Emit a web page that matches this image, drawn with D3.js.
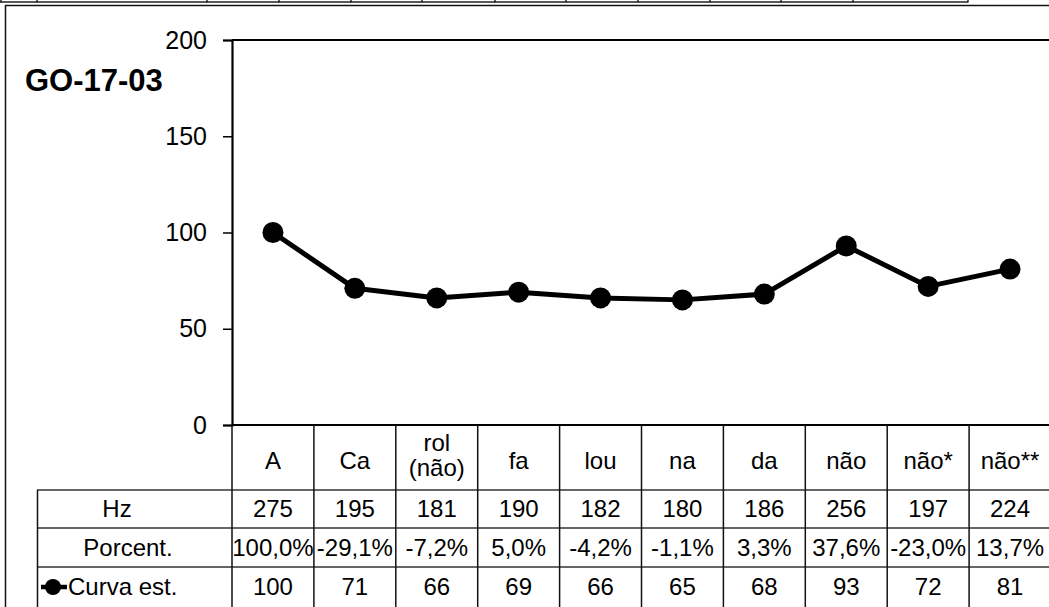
<!DOCTYPE html>
<html>
<head>
<meta charset="utf-8">
<script src="https://cdn.jsdelivr.net/npm/d3@7"></script>
<style>
html,body{margin:0;padding:0;background:#fff;overflow:hidden;}
svg{display:block;font-family:"Liberation Sans",Arial,sans-serif;}
</style>
</head>
<body>
<svg id="c" width="1049" height="607"></svg>
<script>
// ---- data ----
const title = "GO-17-03";
const categories = ["A", "Ca", "rol\n(não)", "fa", "lou", "na", "da", "não", "não*", "não**"];
const hz = [275, 195, 181, 190, 182, 180, 186, 256, 197, 224];
const porcent = ["100,0%", "-29,1%", "-7,2%", "5,0%", "-4,2%", "-1,1%", "3,3%", "37,6%", "-23,0%", "13,7%"];
const curva = [100, 71, 66, 69, 66, 65, 68, 93, 72, 81];
const yTicks = [0, 50, 100, 150, 200];
const rowLabels = ["Hz", "Porcent.", "Curva est."];
// fragment of the page table above the chart (column boundaries)
const pageTableCols = [1, 37, 207, 279, 351, 422, 495, 566, 638, 710, 781, 853, 968];

// ---- layout ----
const svg = d3.select("#c");
const plot = {left: 232, right: 1051, top: 40, bottom: 425};
const x = d3.scaleBand().domain(categories.map((c, i) => i)).range([plot.left, plot.right]);
const y = d3.scaleLinear().domain([0, 200]).range([plot.bottom, plot.top]);
const rows = [{top: 425, bottom: 490}, {top: 490, bottom: 528}, {top: 528, bottom: 567}, {top: 567, bottom: 607}];
const labelLeft = 37;

// page table fragment
svg.append("line").attr("x1", 0).attr("x2", 968).attr("y1", 2).attr("y2", 2)
  .attr("stroke", "#222").attr("stroke-width", 1.5);
svg.selectAll("line.ptc").data(pageTableCols).join("line").attr("class", "ptc")
  .attr("x1", d => d).attr("x2", d => d).attr("y1", 0).attr("y2", 2.5)
  .attr("stroke", "#222").attr("stroke-width", 1.5);

// chart outer border
svg.append("rect").attr("x", 5.5).attr("y", 5.5).attr("width", 1100).attr("height", 700)
  .attr("fill", "none").attr("stroke", "#111").attr("stroke-width", 1.5);

// title
svg.append("text").attr("x", 25).attr("y", 91).attr("font-size", 31).attr("font-weight", "bold")
  .attr("fill", "#000").text(title);

// plot area top border
svg.append("line").attr("x1", plot.left).attr("x2", plot.right).attr("y1", plot.top).attr("y2", plot.top)
  .attr("stroke", "#000").attr("stroke-width", 2.2);

// y axis
const yAxis = d3.axisLeft(y).tickValues(yTicks).tickSize(9).tickPadding(16).tickFormat(d3.format("d"));
const gy = svg.append("g").attr("transform", `translate(${plot.left},0)`).call(yAxis);
gy.select(".domain").attr("stroke", "#000").attr("stroke-width", 2.2);
gy.selectAll(".tick line").attr("stroke", "#000").attr("stroke-width", 1.5);
gy.selectAll(".tick text").attr("font-size", 25).attr("font-family", "Liberation Sans, Arial, sans-serif")
  .attr("fill", "#000");

// x axis baseline
svg.append("line").attr("x1", plot.left).attr("x2", plot.right).attr("y1", plot.bottom).attr("y2", plot.bottom)
  .attr("stroke", "#000").attr("stroke-width", 2.2);

// table grid: horizontal lines
svg.selectAll("line.hrow").data(rows.slice(1)).join("line").attr("class", "hrow")
  .attr("x1", labelLeft).attr("x2", plot.right).attr("y1", d => d.top).attr("y2", d => d.top)
  .attr("stroke", "#333").attr("stroke-width", 1.5);
// vertical lines at band boundaries
const bounds = categories.map((c, i) => x(i)).concat([plot.right]);
svg.selectAll("line.vcol").data(bounds).join("line").attr("class", "vcol")
  .attr("x1", d => d).attr("x2", d => d).attr("y1", plot.bottom).attr("y2", 607)
  .attr("stroke", "#111").attr("stroke-width", 1.5);
// label column left border
svg.append("line").attr("x1", labelLeft + 0.5).attr("x2", labelLeft + 0.5).attr("y1", rows[1].top).attr("y2", 607)
  .attr("stroke", "#111").attr("stroke-width", 1.5);

const fs = 24;
const cx = i => x(i) + x.bandwidth() / 2;

// header row (categories)
categories.forEach((c, i) => {
  const lines = c.split("\n");
  const mid = lines.length > 1 ? 455 : 461;
  const lh = 25;
  const t = svg.append("text").attr("text-anchor", "middle").attr("font-size", fs).attr("fill", "#000");
  lines.forEach((ln, k) => {
    t.append("tspan").attr("x", cx(i))
      .attr("y", mid + (k - (lines.length - 1) / 2) * lh).attr("dy", "0.35em").text(ln);
  });
});

// value rows
const rowData = [hz, porcent, curva];
rowData.forEach((arr, r) => {
  const row = rows[r + 1];
  const mid = (row.top + row.bottom) / 2;
  svg.selectAll(null).data(arr).join("text")
    .attr("x", (d, i) => cx(i)).attr("y", mid).attr("dy", "0.35em")
    .attr("text-anchor", "middle").attr("font-size", fs).attr("fill", "#000")
    .text(d => d);
});

// row labels
const labelPos = [{x: 117, anchor: "middle"}, {x: 128, anchor: "middle"}, {x: 68, anchor: "start"}];
rowLabels.forEach((l, r) => {
  const row = rows[r + 1];
  svg.append("text").attr("x", labelPos[r].x).attr("y", (row.top + row.bottom) / 2).attr("dy", "0.35em")
    .attr("text-anchor", labelPos[r].anchor).attr("font-size", fs).attr("fill", "#000").text(l);
});
// legend key
const keyY = (rows[3].top + rows[3].bottom) / 2;
svg.append("line").attr("x1", 41).attr("x2", 67).attr("y1", keyY).attr("y2", keyY)
  .attr("stroke", "#000").attr("stroke-width", 4.5);
svg.append("circle").attr("cx", 53).attr("cy", keyY).attr("r", 8).attr("fill", "#000");

// series line
const line = d3.line().x((d, i) => cx(i)).y(d => y(d));
svg.append("path").datum(curva).attr("d", line).attr("fill", "none")
  .attr("stroke", "#000").attr("stroke-width", 5).attr("stroke-linejoin", "round");
svg.selectAll("circle.pt").data(curva).join("circle").attr("class", "pt")
  .attr("cx", (d, i) => cx(i)).attr("cy", d => y(d)).attr("r", 10.5).attr("fill", "#000");
</script>
</body>
</html>
